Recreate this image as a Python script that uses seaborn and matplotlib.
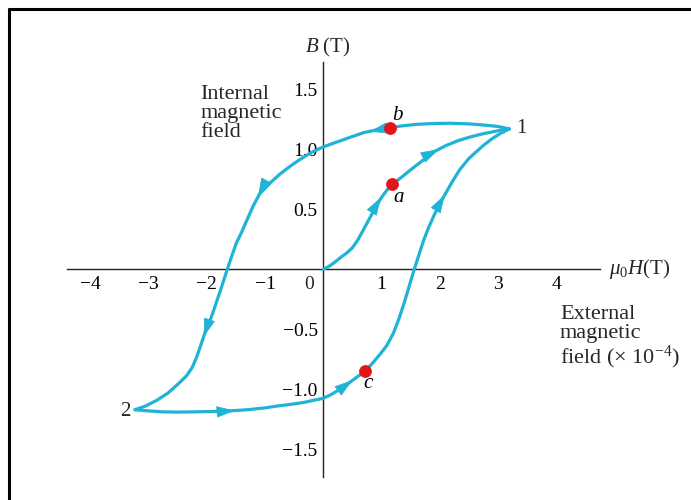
import numpy as np
import pandas as pd
import matplotlib
matplotlib.use("Agg")
import matplotlib.pyplot as plt
from matplotlib.lines import Line2D
import seaborn as sns

# ---- data (mu0*H in T x 1e-4, B in T) ----
# initial magnetisation curve: origin -> point 1
init_h = [0.00, 0.10, 0.20, 0.30, 0.40, 0.50, 0.60, 0.70, 0.80, 0.90, 1.00, 1.10,
          1.20, 1.35, 1.50, 1.70, 1.90, 2.10, 2.30, 2.50, 2.70, 2.90, 3.05, 3.19]
init_b = [0.00, 0.025, 0.06, 0.10, 0.135, 0.18, 0.25, 0.34, 0.43, 0.52, 0.60, 0.665,
          0.715, 0.77, 0.83, 0.905, 0.98, 1.03, 1.07, 1.10, 1.125, 1.145, 1.16, 1.17]

# descending branch: point 1 -> point 2
down_h = [3.19, 3.00, 2.80, 2.50, 2.17, 1.90, 1.60, 1.35, 1.14, 0.97, 0.70, 0.46,
          0.20, 0.00, -0.20, -0.40, -0.55, -0.74, -0.90, -1.09, -1.20, -1.31, -1.40,
          -1.49, -1.57, -1.64, -1.70, -1.76, -1.83, -1.90, -1.96, -2.03, -2.10, -2.17,
          -2.25, -2.35, -2.50, -2.66, -2.85, -3.05, -3.23]
down_b = [1.17, 1.19, 1.20, 1.212, 1.217, 1.215, 1.208, 1.195, 1.18, 1.167, 1.14, 1.10,
          1.055, 1.02, 0.975, 0.915, 0.865, 0.795, 0.725, 0.63, 0.53, 0.41, 0.31,
          0.22, 0.11, 0.01, -0.08, -0.17, -0.27, -0.37, -0.45, -0.53, -0.63, -0.73,
          -0.82, -0.89, -0.96, -1.03, -1.09, -1.14, -1.17]

# ascending branch: point 2 -> point 1
up_h = [-3.23, -3.00, -2.75, -2.51, -2.20, -1.90, -1.60, -1.30, -1.00, -0.80, -0.55,
        -0.34, -0.15, 0.00, 0.15, 0.30, 0.46, 0.60, 0.72, 0.85, 0.97, 1.09, 1.20, 1.30,
        1.40, 1.48, 1.56, 1.64, 1.72, 1.80, 1.90, 2.06, 2.20, 2.34, 2.50, 2.74, 2.90,
        3.03, 3.19]
up_b = [-1.17, -1.18, -1.188, -1.19, -1.188, -1.185, -1.18, -1.17, -1.155, -1.14,
        -1.125, -1.11, -1.09, -1.075, -1.04, -0.995, -0.94, -0.89, -0.845, -0.78,
        -0.71, -0.635, -0.535, -0.41, -0.26, -0.13, 0.00, 0.12, 0.24, 0.34, 0.45,
        0.60, 0.72, 0.83, 0.925, 1.03, 1.09, 1.13, 1.17]

# marked states
state_names = ["a", "b", "c"]
state_h = [1.18, 1.14, 0.72]
state_b = [0.71, 1.18, -0.845]

# direction arrows: (branch, h, B) of each arrow tip
arrow_marks = [("init", 0.99, 0.60), ("init", 1.98, 1.00),
               ("up", 2.08, 0.62), ("down", 0.80, 1.148),
               ("down", -1.12, 0.61), ("down", -2.05, -0.56),
               ("up", -1.52, -1.178), ("up", 0.50, -0.925)]

x_ticks = [-4, -3, -2, -1, 1, 2, 3, 4]
y_ticks = [-1.5, -1.0, -0.5, 0.5, 1.0, 1.5]

# ---- style ----
sns.set_theme(style="white")
plt.rcParams["font.family"] = ["Liberation Serif", "DejaVu Serif"]
plt.rcParams["mathtext.fontset"] = "custom"
plt.rcParams["mathtext.rm"] = "Liberation Serif"
plt.rcParams["mathtext.it"] = "Liberation Serif:italic"
plt.rcParams["axes.unicode_minus"] = True

CYAN = "#1fb3d5"
RED = "#e3151b"
FS = 14
FS_NOTE = 16

fig = plt.figure(figsize=(6.91, 5.00), dpi=100)
ax = fig.add_axes([0, 0, 1, 1])
ax.set_xlim(-5.545, 6.307)
ax.set_ylim(-1.9225, 2.2442)
ax.set_facecolor("white")

branches = {"init": (init_h, init_b), "down": (down_h, down_b), "up": (up_h, up_b)}
for name, (hh, bb) in branches.items():
    df = pd.DataFrame({"H": hh, "B": bb})
    sns.lineplot(data=df, x="H", y="B", sort=False, estimator=None, ax=ax,
                 color=CYAN, lw=2.3, solid_capstyle="round", solid_joinstyle="round",
                 zorder=3)

# arrowheads oriented along the nearest segment of each branch
for name, ah, ab in arrow_marks:
    hh, bb = map(np.asarray, branches[name])
    mids_h = (hh[:-1] + hh[1:]) / 2
    mids_b = (bb[:-1] + bb[1:]) / 2
    i = int(np.argmin((mids_h - ah) ** 2 + (mids_b - ab) ** 2))
    dh, db = hh[i + 1] - hh[i], bb[i + 1] - bb[i]
    norm = np.hypot(dh, db)
    eps = 0.02
    ax.annotate("", xy=(ah, ab), xytext=(ah - eps * dh / norm, ab - eps * db / norm),
                arrowprops=dict(arrowstyle="-|>,head_length=0.85,head_width=0.27",
                                color=CYAN, lw=0.5, shrinkA=0, shrinkB=0,
                                mutation_scale=14),
                zorder=4)

sns.scatterplot(x=state_h, y=state_b, ax=ax, color=RED, s=75, edgecolor=RED,
                linewidth=0.5, zorder=5)
label_offsets = {"a": (5, -10), "b": (6, 9), "c": (2, -9)}
for n, h, b in zip(state_names, state_h, state_b):
    ax.annotate(f"${n}$", xy=(h, b), xytext=label_offsets[n], textcoords="offset points",
                fontsize=15, ha="center", va="center", color="black")

ax.annotate("1", xy=(3.19, 1.17), xytext=(5, 0), textcoords="offset points",
            fontsize=15, ha="left", va="center")
ax.annotate("2", xy=(-3.23, -1.17), xytext=(-3, -1), textcoords="offset points",
            fontsize=15, ha="right", va="center")

# ---- axes through the origin ----
for s in ["top", "right"]:
    ax.spines[s].set_visible(False)
ax.spines["left"].set_position(("data", 0))
ax.spines["bottom"].set_position(("data", 0))
ax.spines["left"].set_bounds(-1.73, 1.73)
ax.spines["bottom"].set_bounds(-4.40, 4.75)
for s in ["left", "bottom"]:
    ax.spines[s].set_color("#222222")
    ax.spines[s].set_linewidth(1.0)

ax.set_xticks(x_ticks)
ax.set_xticklabels([f"{t:d}".replace("-", "\u2212") for t in x_ticks])
ax.set_yticks(y_ticks)
ax.set_yticklabels([f"{t:.1f}".replace("-", "\u2212") for t in y_ticks])
ax.tick_params(axis="both", direction="in", length=6, width=1.0, color="#222222",
               labelsize=FS, labelcolor="black")
ax.tick_params(axis="x", pad=5)
ax.tick_params(axis="y", pad=4)
ax.set_xlabel("")
ax.set_ylabel("")

ax.annotate("0", xy=(0, 0), xytext=(-10, -5), textcoords="offset points",
            fontsize=FS, ha="center", va="top")

ax.text(0.08, 1.845, r"$B$ (T)", fontsize=15, ha="center", va="center")
ax.text(4.90, 0.0, r"$\mu_0H$(T)", fontsize=15, ha="left", va="center")
ax.text(-2.11, 1.54, "Internal\nmagnetic\nfield", fontsize=FS_NOTE, ha="left",
        va="top", linespacing=1.0)
ax.text(4.06, -0.30, "External\nmagnetic\nfield ($\\times$ 10$^{-4}$)", fontsize=FS_NOTE,
        ha="left", va="top", linespacing=1.0)

# page frame
fig.add_artist(Line2D([9 / 691, 1], [1 - 9 / 500, 1 - 9 / 500], transform=fig.transFigure,
                      color="black", lw=2.2))
fig.add_artist(Line2D([9 / 691, 9 / 691], [0, 1 - 9 / 500], transform=fig.transFigure,
                      color="black", lw=2.2))

fig.savefig("out.png", dpi=100, facecolor="white")
